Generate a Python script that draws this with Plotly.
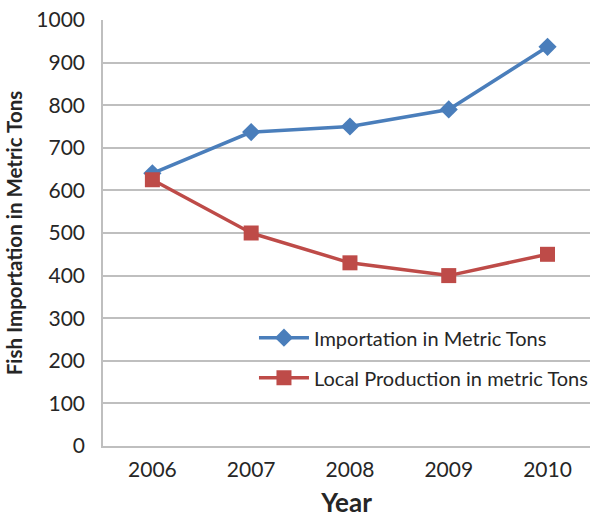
import plotly.graph_objects as go

years = ["2006", "2007", "2008", "2009", "2010"]
importation = [640, 737, 750, 790, 937]
local_production = [625, 500, 430, 400, 450]
y_ticks = [0, 100, 200, 300, 400, 500, 600, 700, 800, 900, 1000]

FONT = "Lato"
GRID = "#bfbfbf"

fig = go.Figure()
fig.add_trace(go.Scatter(
    x=years, y=importation, name="Importation in Metric Tons",
    mode="lines+markers", legendgroup="imp",
    line=dict(color="#4a7ebb", width=3.5),
    marker=dict(symbol="diamond", size=14, color="#4a7ebb"),
))
fig.add_trace(go.Scatter(
    x=years, y=local_production, name="Local Production in metric Tons",
    mode="lines+markers", legendgroup="loc",
    line=dict(color="#be4b48", width=3.5),
    marker=dict(symbol="square", size=15, color="#be4b48"),
))

fig.update_layout(
    width=593, height=518,
    margin=dict(l=103, r=0, t=20, b=72),
    paper_bgcolor="white", plot_bgcolor="white",
    font=dict(family=FONT, color="#262626"),
    showlegend=True,
    legend=dict(
        x=0.31, y=0.3, xanchor="left", yanchor="top",
        bgcolor="rgba(0,0,0,0)", font=dict(size=20, color="#262626"),
        tracegroupgap=11, itemwidth=50,
    ),
    xaxis=dict(
        type="category", range=[-0.5, 4.43], automargin=False,
        showgrid=False, showline=True, linecolor=GRID, linewidth=1.5,
        ticks="", tickfont=dict(size=21), ticklabelstandoff=4,
        title=dict(text="<b>Year</b>", font=dict(size=26), standoff=25),
    ),
    yaxis=dict(
        range=[0, 1000], tickvals=y_ticks, automargin=False,
        showgrid=True, gridcolor=GRID, gridwidth=1.5,
        showline=True, linecolor=GRID, linewidth=1.5,
        ticks="", tickfont=dict(size=21), ticklabelstandoff=12,
        zeroline=False,
        title=dict(text="<b>Fish Importation in Metric Tons</b>", font=dict(size=20.5), standoff=8),
    ),
)

fig.write_html("out.html")
